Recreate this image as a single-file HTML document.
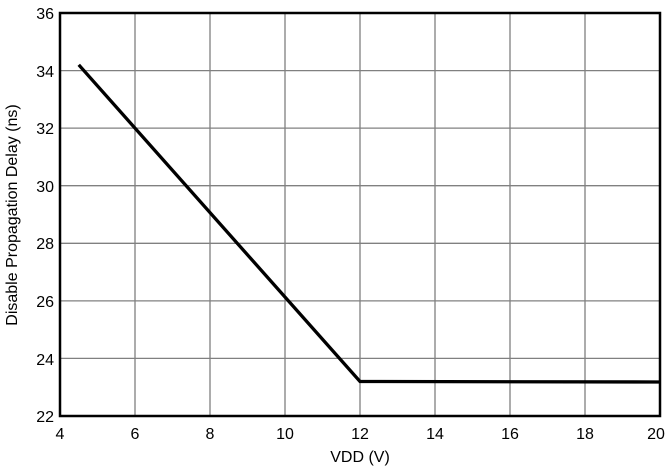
<!DOCTYPE html>
<html><head><style>body{margin:0;background:#fff}</style></head><body>
<svg width="671" height="467" xmlns="http://www.w3.org/2000/svg" font-family="Liberation Sans, sans-serif" font-size="16">
<g stroke="#808080" stroke-width="1.3">
<line x1="135" y1="13" x2="135" y2="416"/><line x1="210" y1="13" x2="210" y2="416"/><line x1="285" y1="13" x2="285" y2="416"/><line x1="360" y1="13" x2="360" y2="416"/><line x1="435" y1="13" x2="435" y2="416"/><line x1="510" y1="13" x2="510" y2="416"/><line x1="585" y1="13" x2="585" y2="416"/>
<line x1="60" y1="70.6" x2="660" y2="70.6"/><line x1="60" y1="128.1" x2="660" y2="128.1"/><line x1="60" y1="185.7" x2="660" y2="185.7"/><line x1="60" y1="243.3" x2="660" y2="243.3"/><line x1="60" y1="300.9" x2="660" y2="300.9"/><line x1="60" y1="358.4" x2="660" y2="358.4"/>
</g>
<rect x="60" y="13" width="600" height="403" fill="none" stroke="#000" stroke-width="2.5"/>
<polyline points="78.75,64.8 360,381.5 660,382" fill="none" stroke="#000" stroke-width="3.3"/>
<g text-anchor="end">
<text x="54" y="19">36</text><text x="54" y="77">34</text><text x="54" y="134">32</text><text x="54" y="192">30</text><text x="54" y="249">28</text><text x="54" y="307">26</text><text x="54" y="365">24</text><text x="54" y="422">22</text>
</g>
<g text-anchor="middle">
<text x="60" y="439">4</text><text x="135" y="439">6</text><text x="210" y="439">8</text><text x="285" y="439">10</text><text x="360" y="439">12</text><text x="435" y="439">14</text><text x="510" y="439">16</text><text x="585" y="439">18</text><text x="656" y="439">20</text>
<text x="360" y="462">VDD (V)</text>
<text transform="translate(17,215) rotate(-90)">Disable Propagation Delay (ns)</text>
</g>
</svg>
</body></html>
